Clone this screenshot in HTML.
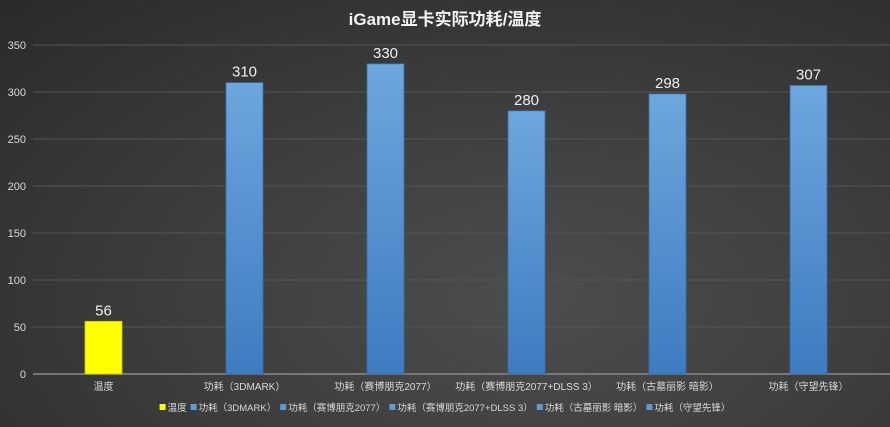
<!DOCTYPE html>
<html><head><meta charset="utf-8"><style>
html,body{margin:0;padding:0;width:890px;height:427px;overflow:hidden}
body{background:radial-gradient(ellipse at 60% 70%,#4d4d4d 0%,#3e3e3e 45%,#2a2a2a 100%);font-family:"Liberation Sans","Noto Sans CJK SC",sans-serif}
svg text{font-family:"Liberation Sans","Noto Sans CJK SC",sans-serif}
</style></head><body>
<svg id="chart" width="890" height="427">
<defs>
<linearGradient id="blue" x1="0" y1="0" x2="0" y2="1"><stop offset="0" stop-color="#6ea6de"/><stop offset="1" stop-color="#3d7cc0"/></linearGradient>
</defs>
<text x="445" y="25" text-anchor="middle" fill="#f2f2f2" font-size="17" font-weight="bold">iGame显卡实际功耗/温度</text>
<g id="grid"></g><g id="bars"></g><g id="legend"></g>
</svg>
<script>
const categories=["温度","功耗（3DMARK）","功耗（赛博朋克2077）","功耗（赛博朋克2077+DLSS 3）","功耗（古墓丽影 暗影）","功耗（守望先锋）"];
const values=[56,310,330,280,298,307];
const ticks=[0,50,100,150,200,250,300,350];
const NS="http://www.w3.org/2000/svg";
const x0=33,x1=879,yTop=45,yBot=374,maxV=350;
const y=v=>yBot-(v/maxV)*(yBot-yTop);
const band=(x1-x0)/categories.length;
const cx=i=>x0+band*(i+0.5);
function mk(tag,attrs,parent){const e=document.createElementNS(NS,tag);for(const k in attrs)e.setAttribute(k,attrs[k]);parent.appendChild(e);return e;}
const grid=document.getElementById('grid'),bars=document.getElementById('bars'),leg=document.getElementById('legend');
ticks.forEach(t=>{
 const l=mk('line',{x1:x0,x2:890,y1:y(t),y2:y(t),stroke:t===0?'#8a8a8a':'#555','stroke-width':t===0?1.5:1},grid);
 
 
 const tx=mk('text',{x:26,y:y(t)+4,'text-anchor':'end',fill:'#d9d9d9','font-size':11},grid);
 tx.textContent=t;
 
 
});
categories.forEach((c,i)=>{
 const w=37;
 const r=mk('rect',{x:cx(i)-w/2,y:y(values[i]),width:w,height:yBot-y(values[i]),fill:i===0?'#ffff00':'url(#blue)',stroke:i===0?'#cccc00':'#3a6ea5','stroke-width':0.8},bars);
 
 
 const vt=mk('text',{x:cx(i),y:y(values[i])-6,'text-anchor':'middle',fill:'#eeeeee','font-size':15},bars);
 vt.textContent=values[i];
 
 
 const ct=mk('text',{x:cx(i),y:390,'text-anchor':'middle',fill:'#d9d9d9','font-size':10},bars);
 ct.textContent=c;
 
 
});
const g=mk('g',{},leg);
let lx=0;
categories.forEach((c,i)=>{
 const sw=mk('rect',{x:lx,y:404,width:6,height:6,fill:i===0?'#ffff00':'#5b9bd5'},g);
 
 
 const t=mk('text',{x:lx+8,y:411,fill:'#d9d9d9','font-size':9.5},g);
 t.textContent=c;
 
 
 lx+=8+t.getComputedTextLength()+4;
});
g.setAttribute('transform','translate('+(445-(lx-4)/2)+',0)');


</script>
</body></html>
